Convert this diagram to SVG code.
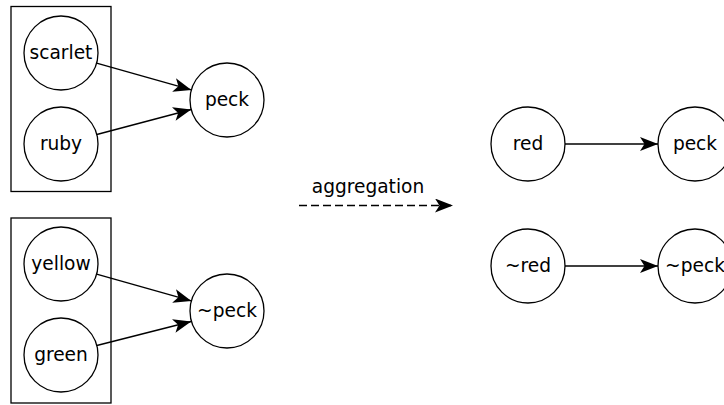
<svg xmlns="http://www.w3.org/2000/svg" width="724" height="405" viewBox="0 0 724 405">
<style>
.box{fill:none;stroke:#000;stroke-width:1.3}
.n circle{fill:#fff;stroke:#000;stroke-width:1.3}
text{font-family:"DejaVu Sans",sans-serif;font-size:18.6px;fill:#000;text-anchor:middle}
.e{fill:none;stroke:#000;stroke-width:1.4;marker-end:url(#ah)}
</style>
<defs>
<marker id="ah" markerUnits="userSpaceOnUse" markerWidth="20" markerHeight="16" refX="18" refY="7" orient="auto" viewBox="0 0 20 16">
<path d="M0,0 L18,7 L0,14 L4.5,7 z" fill="#000"/>
</marker>
</defs>
<rect class="box" x="11" y="6.5" width="100" height="185"/>
<rect class="box" x="11" y="218" width="100" height="185"/>
<g id="scarlet" class="n"><circle cx="61" cy="53" r="37"/><text x="61" y="59">scarlet</text></g>
<g id="ruby" class="n"><circle cx="61" cy="144" r="37"/><text x="61" y="150">ruby</text></g>
<g id="peck1" class="n"><circle cx="227" cy="100" r="37"/><text x="227" y="106">peck</text></g>
<g id="yellow" class="n"><circle cx="61" cy="264" r="37"/><text x="61" y="270">yellow</text></g>
<g id="green" class="n"><circle cx="61" cy="355" r="37"/><text x="61" y="361">green</text></g>
<g id="npeck1" class="n"><circle cx="227" cy="311" r="37"/><text x="227" y="317">~peck</text></g>
<g id="red" class="n"><circle cx="528" cy="144" r="37"/><text x="528" y="150">red</text></g>
<g id="peck2" class="n"><circle cx="695" cy="144" r="37"/><text x="695" y="150">peck</text></g>
<g id="nred" class="n"><circle cx="528" cy="266" r="37"/><text x="528" y="272">~red</text></g>
<g id="npeck2" class="n"><circle cx="695" cy="266" r="37"/><text x="695" y="272">~peck</text></g>
<g id="connectors">
<path class="e" d="M96.6,63.1 L191.4,89.9"/>
<path class="e" d="M96.8,134.5 L191.2,109.5"/>
<path class="e" d="M96.6,274.1 L191.4,300.9"/>
<path class="e" d="M96.8,345.5 L191.2,321.5"/>
<path class="e" d="M565,144 L658,144"/>
<path class="e" d="M565,266 L658,266"/>
<path class="e" d="M299,205.5 L453,205.5" stroke-dasharray="8,4"/>
<text x="368" y="193">aggregation</text>
</g>
</svg>
